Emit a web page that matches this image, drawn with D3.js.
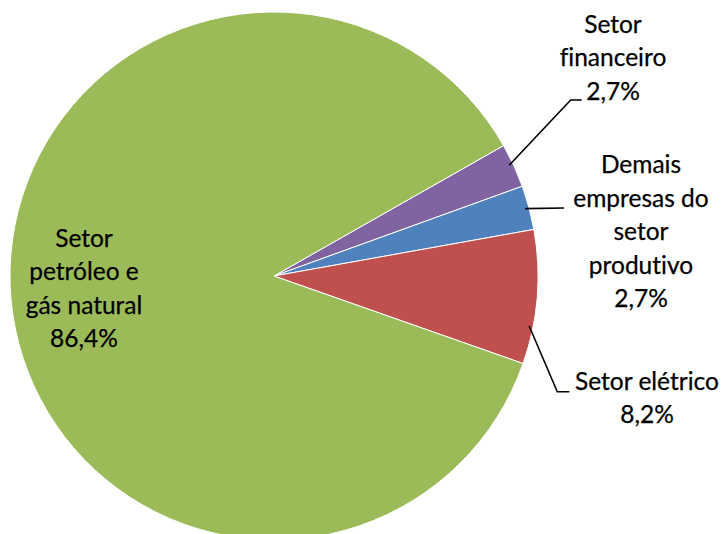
<!DOCTYPE html>
<html>
<head>
<meta charset="utf-8">
<script src="https://cdn.jsdelivr.net/npm/d3@7"></script>
<style>
  html, body { margin: 0; padding: 0; background: #fff; }
  svg { display: block; }
  text { font-family: Lato, "Open Sans", sans-serif; fill: #000; font-variant-ligatures: none; }
</style>
</head>
<body>
<svg id="chart" width="728" height="534"></svg>
<script>
const categories = ["Setor financeiro", "Demais empresas do setor produtivo", "Setor elétrico", "Setor petróleo e gás natural"];
const values = [2.7, 2.7, 8.2, 86.4];
const valueLabels = ["2,7%", "2,7%", "8,2%", "86,4%"];
const labelLines = [
  ["Setor", "financeiro"],
  ["Demais", "empresas do", "setor", "produtivo"],
  ["Setor elétrico"],
  ["Setor", "petróleo e", "gás natural"]
];
const colors = ["#8064A2", "#4F81BD", "#C0504D", "#9BBB59"];

const W = 728, H = 534;
const cx = 274, cy = 276, R = 264;
const start = 60.4 * Math.PI / 180;

const svg = d3.select("#chart");
const g = svg.append("g").attr("transform", `translate(${cx},${cy})`);

const pie = d3.pie().sort(null).value(d => d).startAngle(start).endAngle(start + 2 * Math.PI);
const arcs = pie(values);
const arc = d3.arc().innerRadius(0).outerRadius(R);

g.selectAll("path.slice").data(arcs).join("path")
  .attr("class", "slice")
  .attr("d", arc)
  .attr("fill", (d, i) => colors[i])
  .attr("stroke", "#fff")
  .attr("stroke-width", 1);

const fontSize = 24.5;
const lh = 33.4;
const labelPos = [
  { x: 613, y: 33 },
  { x: 641, y: 173.3 },
  { x: 647, y: 390 },
  { x: 84, y: 247 }
];

labelLines.forEach((lines, i) => {
  const t = svg.append("text")
    .attr("text-anchor", "middle")
    .attr("font-size", fontSize)
    .attr("stroke", "#000")
    .attr("stroke-width", 0.25);
  const all = lines.concat([valueLabels[i]]);
  all.forEach((s, j) => {
    t.append("tspan").attr("x", labelPos[i].x).attr("y", labelPos[i].y + j * lh).text(s);
  });
});

function edgePoint(d, frac, rr) {
  const a = d.startAngle + (d.endAngle - d.startAngle) * frac;
  return [cx + rr * Math.sin(a), cy - rr * Math.cos(a)];
}
const leaders = [
  { d: arcs[0], frac: 0.45, pts: [[570.7, 100], [581.7, 100]] },
  { d: arcs[1], frac: 0.5, pts: [[564, 208]] },
  { d: arcs[2], frac: 0.72, pts: [[557.3, 391.7], [569.3, 391.7]] }
];
const line = d3.line();
leaders.forEach(L => {
  const p0 = edgePoint(L.d, L.frac, R - 4);
  svg.append("path")
    .attr("d", line([p0].concat(L.pts)))
    .attr("fill", "none")
    .attr("stroke", "#000")
    .attr("stroke-width", 1.6);
});
</script>
</body>
</html>
